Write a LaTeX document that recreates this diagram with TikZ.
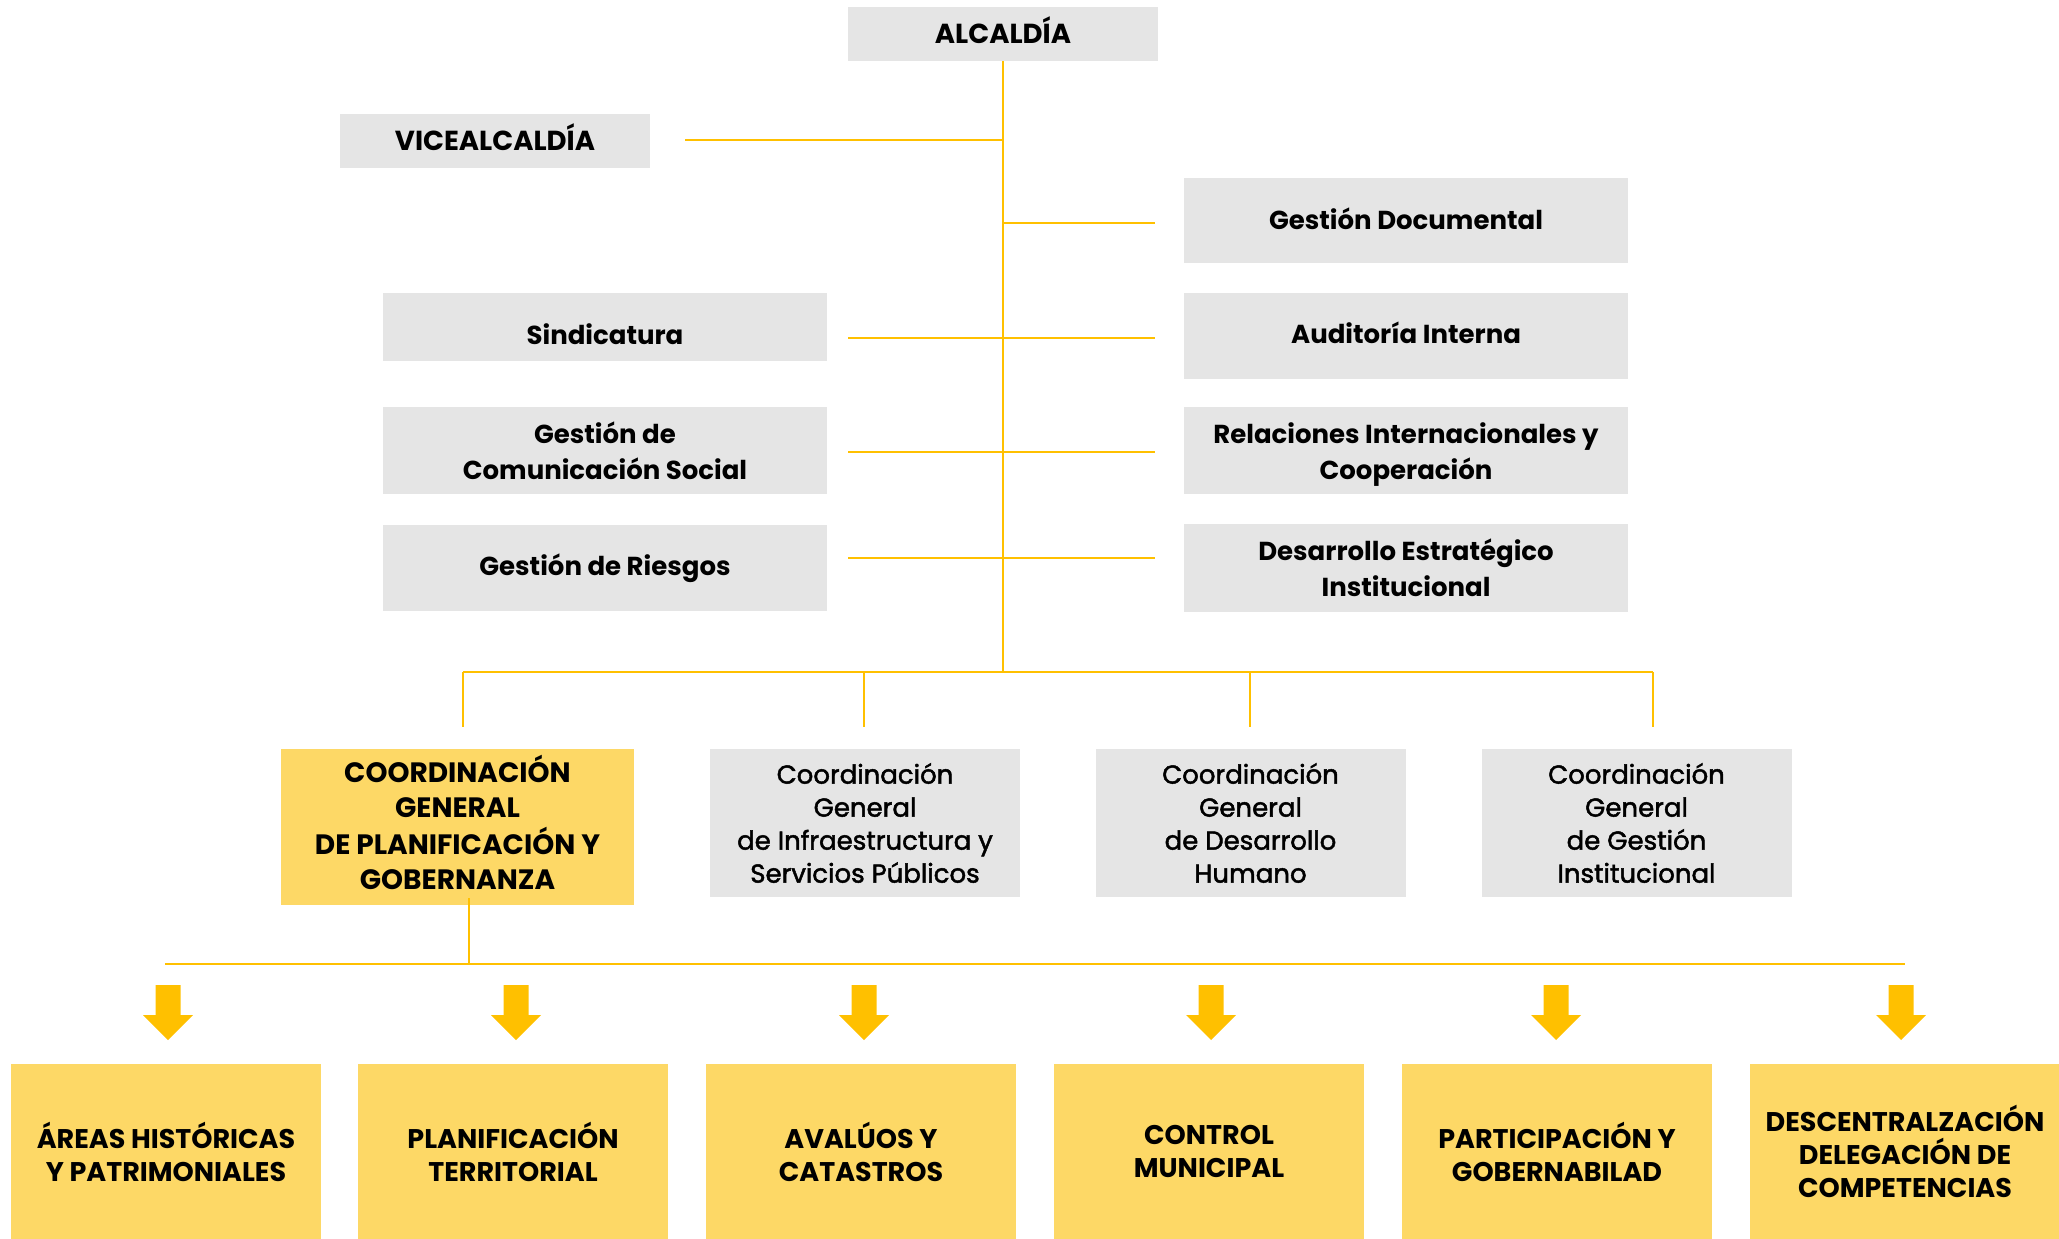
\documentclass[tikz,border=0pt]{standalone}
\usepackage{fontspec}
\setmainfont{Poppins}
\newfontfamily\popmed{Poppins}[FakeBold=1.8]
\definecolor{boxgray}{HTML}{E5E5E5}
\definecolor{boxyellow}{HTML}{FDD866}
\definecolor{linegold}{HTML}{FFC000}
\definecolor{arrowgold}{HTML}{FFC000}
\newcommand\shiftv[2]{\raisebox{#1}[\height][\depth]{\begin{tabular}{@{}c@{}}#2\end{tabular}}}
\tikzset{
  base/.style={rectangle, inner sep=0pt, align=center, text=black},
  graybox/.style={base, fill=boxgray},
  yellowbox/.style={base, fill=boxyellow},
  bigtxt/.style={font=\bfseries\fontsize{27.5}{36}\selectfont},
  midtxt/.style={font=\bfseries\fontsize{26}{36}\selectfont},
  coordtxt/.style={font=\popmed\fontsize{26}{33}\selectfont},
  ctxt/.style={font=\bfseries\fontsize{28}{35}\selectfont},
  bottxt/.style={font=\bfseries\fontsize{27}{33}\selectfont},
  conn/.style={draw=linegold, line width=2pt},
  blockarrow/.style={fill=arrowgold}
}
\begin{document}
\begin{tikzpicture}[x=1pt,y=-1pt]
\useasboundingbox (0,0) rectangle (2059,1239);
% top level
\node[graybox, bigtxt, minimum width=310, minimum height=54] (alc) at (1003,34) {\shiftv{-1pt}{ALCALDÍA}};
\node[graybox, bigtxt, minimum width=310, minimum height=54] (vice) at (495,141) {\shiftv{-1pt}{VICEALCALDÍA}};
% right column
\node[graybox, midtxt, minimum width=444, minimum height=85] (gdoc) at (1406,220.5) {\shiftv{-1.6pt}{Gestión Documental}};
\node[graybox, midtxt, minimum width=444, minimum height=86] (aud) at (1406,336) {\shiftv{-0.6pt}{Auditoría Interna}};
\node[graybox, midtxt, minimum width=444, minimum height=87] (rel) at (1406,450.5) {\shiftv{-4pt}{Relaciones Internacionales y\\Cooperación}};
\node[graybox, midtxt, minimum width=444, minimum height=88] (des) at (1406,568) {Desarrollo Estratégico\\Institucional};
% left column
\node[graybox, midtxt, minimum width=444, minimum height=68] (sind) at (605,327) {\shiftv{-10.5pt}{Sindicatura}};
\node[graybox, midtxt, minimum width=444, minimum height=87] (com) at (605,450.5) {Gestión de\\Comunicación Social};
\node[graybox, midtxt, minimum width=444, minimum height=86] (rie) at (605,568) {Gestión de Riesgos};
% coordinations
\node[yellowbox, ctxt, minimum width=353, minimum height=156] (c1) at (457.5,827) {\shiftv{-0.5pt}{COORDINACIÓN\\GENERAL\\DE PLANIFICACIÓN Y\\GOBERNANZA}};
\node[graybox, coordtxt, minimum width=310, minimum height=148] (c2) at (865,823) {Coordinación\\General\\de Infraestructura y\\Servicios Públicos};
\node[graybox, coordtxt, minimum width=310, minimum height=148] (c3) at (1250.5,823) {Coordinación\\General\\de Desarrollo\\Humano};
\node[graybox, coordtxt, minimum width=310, minimum height=148] (c4) at (1636.5,823) {Coordinación\\General\\de Gestión\\Institucional};
% bottom units
\node[yellowbox, bottxt, minimum width=310, minimum height=175] (b1) at (166,1151.5) {ÁREAS HISTÓRICAS\\Y PATRIMONIALES};
\node[yellowbox, bottxt, minimum width=310, minimum height=175] (b2) at (513,1151.5) {PLANIFICACIÓN\\TERRITORIAL};
\node[yellowbox, bottxt, minimum width=310, minimum height=175] (b3) at (861,1151.5) {AVALÚOS Y\\CATASTROS};
\node[yellowbox, bottxt, minimum width=310, minimum height=175] (b4) at (1209,1151.5) {CONTROL\\MUNICIPAL};
\node[yellowbox, bottxt, minimum width=310, minimum height=175] (b5) at (1557,1151.5) {PARTICIPACIÓN Y\\GOBERNABILAD};
\node[yellowbox, bottxt, minimum width=310, minimum height=175] (b6) at (1905,1151.5) {DESCENTRALZACIÓN\\DELEGACIÓN DE\\COMPETENCIAS};
% connector points
\coordinate (tbus) at (1003,672);
\coordinate (vl) at (685,140);
\coordinate (vt) at (1003,140);
\coordinate (gdl) at (1003,223);
\coordinate (gdr) at (1155,223);
\coordinate (s1) at (848,338);  \coordinate (s2) at (1155,338);
\coordinate (m1) at (848,452);  \coordinate (m2) at (1155,452);
\coordinate (r1) at (848,558);  \coordinate (r2) at (1155,558);
\coordinate (busl) at (463,672); \coordinate (busr) at (1653,672);
\coordinate (d1) at (463,727); \coordinate (d2) at (864,672); \coordinate (d2e) at (864,727);
\coordinate (d3) at (1250,672); \coordinate (d3e) at (1250,727);
\coordinate (d4e) at (1653,727);
\coordinate (c1s) at (469,898); \coordinate (c1b) at (469,964);
\coordinate (bl) at (165,964); \coordinate (br) at (1905,964);
% connectors
\draw[conn] (alc.south) -- (tbus);
\draw[conn] (vl) -- (vt);
\draw[conn] (gdl) -- (gdr);
\draw[conn] (s1) -- (s2);
\draw[conn] (m1) -- (m2);
\draw[conn] (r1) -- (r2);
\draw[conn] (busl) -- (busr);
\draw[conn] (busl) -- (d1);
\draw[conn] (d2) -- (d2e);
\draw[conn] (d3) -- (d3e);
\draw[conn] (busr) -- (d4e);
\draw[conn] (c1s) -- (c1b);
\draw[conn] (bl) -- (br);
% block arrows
\foreach \ax in {168,516,864,1211,1556,1901}{
  \fill[blockarrow] (\ax-12.5,985) -- (\ax+12.5,985) -- (\ax+12.5,1015) -- (\ax+25,1015)
     -- (\ax,1040) -- (\ax-25,1015) -- (\ax-12.5,1015) -- cycle;
}
\end{tikzpicture}
\end{document}
